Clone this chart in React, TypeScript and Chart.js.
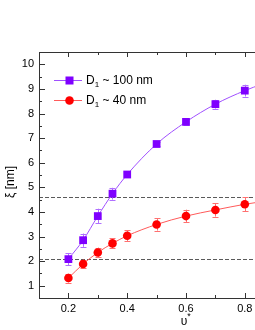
import React, { useEffect, useRef } from "react";
import { Chart, registerables } from "chart.js";
Chart.register(...registerables);

// ---- data ----
const xValues = [0.2, 0.25, 0.3, 0.35, 0.4, 0.5, 0.6, 0.7, 0.8];
const seriesLarge = [2.08, 2.85, 3.83, 4.74, 5.52, 6.76, 7.66, 8.38, 8.93];
const errLarge = [0.25, 0.27, 0.3, 0.24, 0.12, 0.1, 0.12, 0.18, 0.24];
const seriesSmall = [1.31, 1.88, 2.35, 2.72, 3.03, 3.49, 3.83, 4.08, 4.31];
const errSmall = [0.18, 0.18, 0.2, 0.2, 0.22, 0.25, 0.26, 0.27, 0.28];
const fitTailX = [0.86];
const fitTailLarge = [9.2];
const fitTailSmall = [4.42];
const refLines = [2.08, 4.61];
const legendSizes = ["100 nm", "40 nm"];
const xTickLabels = [0.2, 0.4, 0.6, 0.8, 1.0];
const yTickLabels = [1, 2, 3, 4, 5, 6, 7, 8, 9, 10];
const xTitle = "υ";
const yTitle = "ξ [nm]";

const PURPLE = "#7f00ff";
const PURPLE_LINE = "#a050ff";
const PURPLE_ERR = "#b070ff";
const RED = "#ff0000";
const RED_LINE = "#ff5a5a";
const RED_ERR = "#ff7070";
const FONT = "'Liberation Sans', Arial, sans-serif";

export default function App() {
  const ref = useRef<HTMLCanvasElement | null>(null);
  useEffect(() => {
    if (!ref.current) return;
    const pts = (ys: number[]) => xValues.map((x, i) => ({ x, y: ys[i] }));
    const linePts = (ys: number[], tail: number[]) =>
      pts(ys).concat(fitTailX.map((x, i) => ({ x, y: tail[i] })));

    const decor = {
      id: "decor",
      beforeDatasetsDraw(chart: any) {
        const { ctx, chartArea: a, scales } = chart;
        const x = scales.x, y = scales.y;
        ctx.save();
        ctx.strokeStyle = "#5a5a5a";
        ctx.lineWidth = 1;
        ctx.setLineDash([4, 2]);
        refLines.forEach((v) => {
          const py = Math.round(y.getPixelForValue(v)) + 0.5;
          ctx.beginPath();
          ctx.moveTo(a.left, py);
          ctx.lineTo(a.right, py);
          ctx.stroke();
        });
        ctx.setLineDash([]);
        const drawErr = (vals: number[], errs: number[], color: string) => {
          ctx.strokeStyle = color;
          ctx.lineWidth = 1;
          vals.forEach((v, i) => {
            const px = Math.round(x.getPixelForValue(xValues[i])) + 0.5;
            const y1 = y.getPixelForValue(v - errs[i]);
            const y2 = y.getPixelForValue(v + errs[i]);
            ctx.beginPath();
            ctx.moveTo(px, y1);
            ctx.lineTo(px, y2);
            ctx.moveTo(px - 3, Math.round(y1) + 0.5);
            ctx.lineTo(px + 3, Math.round(y1) + 0.5);
            ctx.moveTo(px - 3, Math.round(y2) + 0.5);
            ctx.lineTo(px + 3, Math.round(y2) + 0.5);
            ctx.stroke();
          });
        };
        drawErr(seriesLarge, errLarge, PURPLE_ERR);
        drawErr(seriesSmall, errSmall, RED_ERR);
        ctx.restore();
      },
      afterDraw(chart: any) {
        const { ctx, chartArea: a, scales } = chart;
        const x = scales.x, y = scales.y;
        const L = a.left, T = a.top, R = a.right, B = a.bottom;
        ctx.save();
        ctx.strokeStyle = "#333";
        ctx.lineWidth = 1;
        ctx.beginPath();
        ctx.moveTo(L + 0.5, T);
        ctx.lineTo(L + 0.5, B + 1);
        ctx.moveTo(L, T + 0.5);
        ctx.lineTo(R, T + 0.5);
        ctx.moveTo(L, B + 0.5);
        ctx.lineTo(R, B + 0.5);
        ctx.moveTo(R + 0.5, T);
        ctx.lineTo(R + 0.5, B + 1);
        // y ticks
        for (let k = 1; k <= 21; k++) {
          const v = k / 2;
          const major = k % 2 === 0;
          const py = Math.round(y.getPixelForValue(v)) + 0.5;
          const len = major ? 6 : 3;
          ctx.moveTo(L, py);
          ctx.lineTo(L + len, py);
          ctx.moveTo(R, py);
          ctx.lineTo(R - len, py);
        }
        // x ticks
        for (let k = 2; k <= 10; k++) {
          const v = k / 10;
          const major = k % 2 === 0;
          const px = Math.round(x.getPixelForValue(v)) + 0.5;
          const len = major ? 5 : 3;
          ctx.moveTo(px, B);
          ctx.lineTo(px, B - len);
          ctx.moveTo(px, T);
          ctx.lineTo(px, T + len);
        }
        ctx.stroke();

        // legend
        const rows = [
          { line: PURPLE_LINE, fill: PURPLE, shape: "rect", label: legendSizes[0] },
          { line: RED_LINE, fill: RED, shape: "circle", label: legendSizes[1] },
        ];
        rows.forEach((r, i) => {
          const cy = T + 28 + i * 20;
          const ly = Math.round(cy) + 0.5;
          ctx.strokeStyle = r.line;
          ctx.lineWidth = 1;
          ctx.beginPath();
          ctx.moveTo(L + 15, ly);
          ctx.lineTo(L + 43, ly);
          ctx.stroke();
          ctx.fillStyle = r.fill;
          const mx = L + 30;
          if (r.shape === "rect") {
            ctx.fillRect(mx - 3.5, cy - 3.5, 8, 8);
          } else {
            ctx.beginPath();
            ctx.arc(mx + 0.5, cy + 0.5, 4.3, 0, Math.PI * 2);
            ctx.fill();
          }
          ctx.fillStyle = "#000";
          ctx.textBaseline = "middle";
          ctx.textAlign = "left";
          ctx.font = `12px ${FONT}`;
          let tx = L + 47;
          ctx.fillText("D", tx, cy + 1);
          tx += ctx.measureText("D").width;
          ctx.font = `8px ${FONT}`;
          ctx.fillText("1", tx, cy + 5);
          tx += ctx.measureText("1").width;
          ctx.font = `12px ${FONT}`;
          ctx.fillText(" ~ " + r.label, tx, cy + 1);
        });

        // axis titles
        ctx.fillStyle = "#000";
        ctx.font = `12px ${FONT}`;
        ctx.textAlign = "center";
        ctx.textBaseline = "middle";
        ctx.save();
        ctx.translate(11, 182);
        ctx.rotate(-Math.PI / 2);
        ctx.fillText(yTitle, 0, 0);
        ctx.restore();
        const cx = x.getPixelForValue(0.6);
        ctx.fillText(xTitle, cx - 2, 322);
        ctx.font = `9px ${FONT}`;
        ctx.fillText("*", cx + 3, 317);
        ctx.restore();
      },
    };

    const chart = new Chart(ref.current, {
      type: "scatter",
      data: {
        datasets: [
          {
            data: pts(seriesLarge),
            showLine: false,
            pointStyle: "rect",
            pointRadius: 5.5,
            pointBackgroundColor: PURPLE,
            pointBorderColor: PURPLE,
            pointBorderWidth: 0,
          },
          {
            data: pts(seriesSmall),
            showLine: false,
            pointStyle: "circle",
            pointRadius: 4.3,
            pointBackgroundColor: RED,
            pointBorderColor: RED,
            pointBorderWidth: 0,
          },
          {
            data: linePts(seriesLarge, fitTailLarge),
            showLine: true,
            pointRadius: 0,
            borderColor: PURPLE_LINE,
            borderWidth: 1,
            cubicInterpolationMode: "monotone",
          },
          {
            data: linePts(seriesSmall, fitTailSmall),
            showLine: true,
            pointRadius: 0,
            borderColor: RED_LINE,
            borderWidth: 1,
            cubicInterpolationMode: "monotone",
          },
        ],
      } as any,
      options: {
        responsive: false,
        animation: false,
        devicePixelRatio: 1,
        layout: { padding: { left: 0, top: 52, right: 7, bottom: 0 } },
        plugins: { legend: { display: false }, tooltip: { enabled: false } },
        scales: {
          x: {
            type: "linear",
            min: 0.1,
            max: 1.1,
            grid: { display: false, drawTicks: false },
            border: { display: false },
            afterBuildTicks: (s: any) => {
              s.ticks = xTickLabels.map((v) => ({ value: v }));
            },
            afterFit: (s: any) => {
              s.height = 32;
            },
            ticks: {
              padding: 4,
              maxRotation: 0,
              autoSkip: false,
              color: "#000",
              font: { family: FONT, size: 11 },
              callback: (v: any) => Number(v).toFixed(1),
            },
          },
          y: {
            type: "linear",
            min: 0.5,
            max: 10.5,
            grid: { display: false, drawTicks: false },
            border: { display: false },
            afterBuildTicks: (s: any) => {
              s.ticks = yTickLabels.map((v) => ({ value: v }));
            },
            afterFit: (s: any) => {
              s.width = 39;
            },
            ticks: {
              padding: 5,
              autoSkip: false,
              color: "#000",
              font: { family: FONT, size: 11 },
              callback: (v: any) => String(v),
            },
          },
        },
      } as any,
      plugins: [decor],
    });
    return () => chart.destroy();
  }, []);

  return (
    <div
      style={{
        position: "fixed",
        left: 0,
        top: 0,
        width: 255,
        height: 330,
        overflow: "hidden",
        background: "#fff",
      }}
    >
      <canvas ref={ref} width={340} height={330} style={{ display: "block" }} />
    </div>
  );
}
